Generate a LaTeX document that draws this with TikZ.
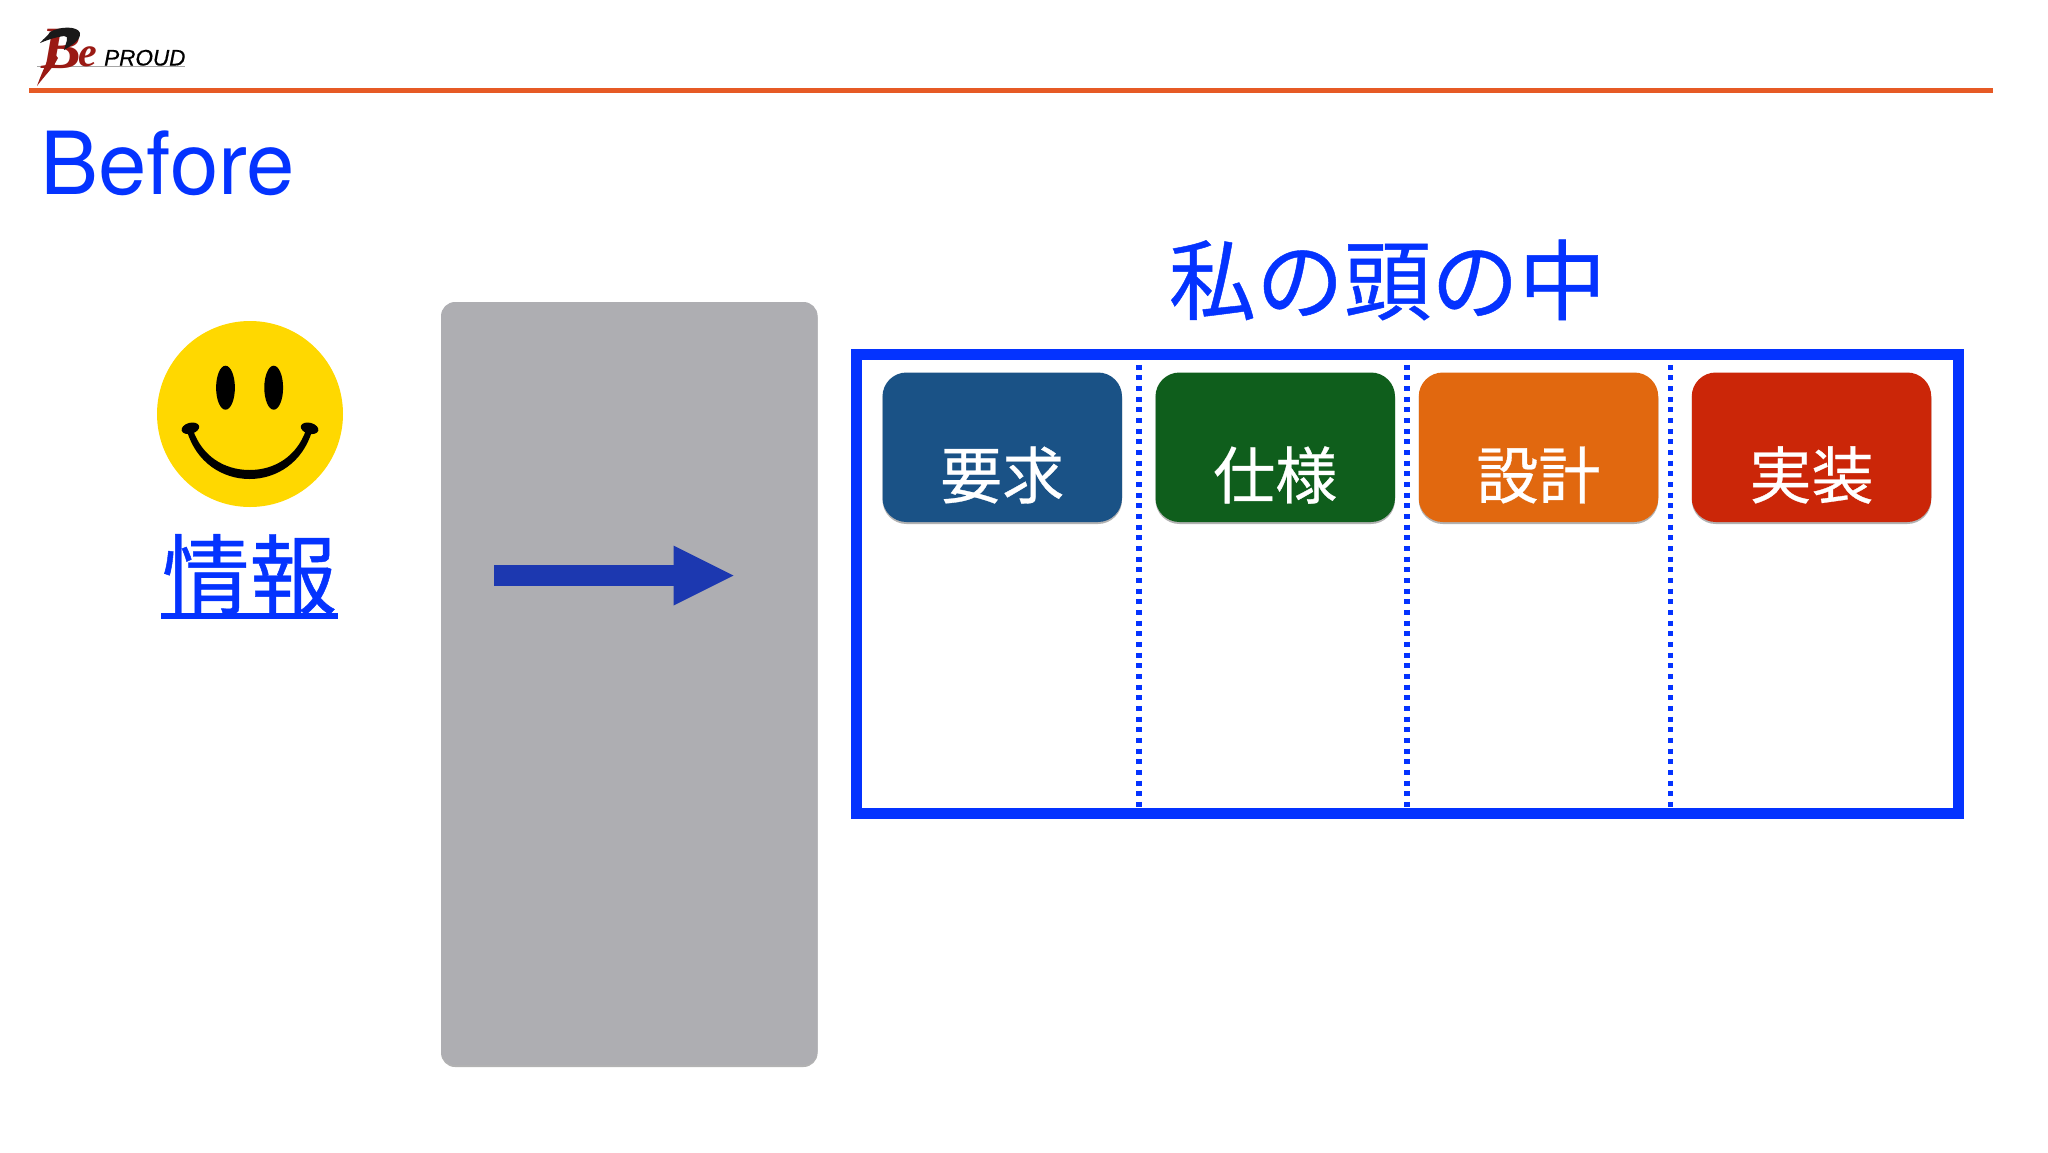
\documentclass[tikz,border=0pt]{standalone}
\usepackage{fontspec}
\setmainfont{TeX Gyre Heros}
\newfontfamily\cjkfont[FakeBold=0.5]{Noto Sans CJK JP}
\newfontfamily\logoserif{Liberation Serif}
\newfontfamily\logosans[FakeBold=0.4]{Liberation Sans}
\usetikzlibrary{arrows.meta,shadows}
\definecolor{framblue}{HTML}{0433FF}
\definecolor{arrowblue}{HTML}{1C38B0}
\definecolor{rulered}{HTML}{E65A25}
\definecolor{panelgray}{HTML}{AEAEB2}
\definecolor{smileyellow}{HTML}{FFD800}
\definecolor{boxblue}{HTML}{1A5286}
\definecolor{boxgreen}{HTML}{0F5E1C}
\definecolor{boxorange}{HTML}{E1680F}
\definecolor{boxred}{HTML}{CB2608}
\definecolor{logored}{HTML}{9A1A14}
\tikzset{
  softshadow/.style={drop shadow={shadow xshift=0pt,shadow yshift=-2pt,opacity=.3,fill=black}},
  stagebox/.style={rounded corners=24pt,minimum width=239.5pt,minimum height=149.5pt,inner sep=0pt,softshadow},
  stagetext/.style={inner sep=0pt,text=white,font=\cjkfont\fontsize{62}{62}\selectfont},
  bigcjk/.style={inner sep=0pt,text=framblue,font=\cjkfont\fontsize{87.5}{87.5}\selectfont},
  divider/.style={framblue,line width=5.5pt,dash pattern=on 5pt off 5.66pt},
}
\begin{document}
\begin{tikzpicture}[x=1pt,y=-1pt]
\useasboundingbox (0,0) rectangle (2048,1152);
\fill[white] (0,0) rectangle (2048,1152);
% logo
\fill[gray!70] (37,66.2) rectangle (185,67.2);
\fill[logored] (52,50) .. controls (47,62) and (42,72) .. (37,86) .. controls (46,74) and (53,68) .. (58,58) -- cycle;
\node[anchor=base west,inner sep=0pt,text=logored,font=\logoserif\bfseries\itshape\fontsize{60}{60}\selectfont] (logoB) at (41,68) {B};
\node[anchor=base west,inner sep=0pt,text=logored,font=\logoserif\bfseries\itshape\fontsize{42}{42}\selectfont] (logoE) at (78,66) {e};
\fill[black!90] (50,32) .. controls (60,26) and (78,26) .. (80,33) .. controls (81,40) and (72,45) .. (64,50) .. controls (66,42) and (70,36) .. (64,36) .. controls (58,37) and (52,38) .. (40,43) .. controls (44,38) and (48,36) .. (50,32) -- cycle;
\node[anchor=base west,inner sep=0pt,text=black,font=\logosans\itshape\fontsize{22.5}{22.5}\selectfont] (logoP) at (104,65.5) {PROUD};
% header
\fill[rulered] (29,88) rectangle (1993,93);
\node[anchor=base west,inner sep=0pt,text=framblue,font=\fontsize{87}{87}\selectfont] (title) at (40,194) {Before};
% smiley
\fill[smileyellow] (250,414) circle[radius=93];
\fill[black] (225.5,387.7) circle[x radius=9.4,y radius=22];
\fill[black] (273.7,387.7) circle[x radius=9.4,y radius=22];
\fill[black] (187,431) .. controls (196,462) and (222,479) .. (249.6,479) .. controls (277,479) and (303,462) .. (312,431)
  -- (306,430) .. controls (297,456) and (275,470) .. (249.6,470) .. controls (224,470) and (202,456) .. (193,430) -- cycle;
\fill[black,rotate around={15:(190.4,428.3)}] (190.4,428.3) circle[x radius=9,y radius=5.5];
\fill[black,rotate around={-15:(309.6,428.3)}] (309.6,428.3) circle[x radius=9,y radius=5.5];
\node[bigcjk] (joho) at (249.5,574.5) {情報};
\fill[framblue] (161.4,612.7) rectangle (338,619.3);
% panel
\node[rounded corners=14pt,minimum width=376.5pt,minimum height=763pt,inner sep=0pt,fill=panelgray,softshadow] (panel) at (629.3,683.5) {};
\coordinate (arrowstart) at (494,575.5);
\coordinate (arrowtip) at (733.5,575.5);
\draw[arrowblue,line width=20.4pt,-{Triangle[length=60pt,width=60pt,line width=0pt]}] (arrowstart) -- (arrowtip);
% frame
\node[bigcjk] (head) at (1387.5,280) {私の頭の中};
\node[draw=framblue,line width=11pt,minimum width=1102.5pt,minimum height=459pt,inner sep=0pt,softshadow,fill=white] (frame) at (1407.25,584) {};
\foreach \n/\x in {a/1139,b/1407,c/1670.5}{
  \coordinate (top\n) at (\x,364.8);
  \coordinate (bot\n) at (\x,807);
  \draw[divider] (top\n) -- (bot\n);
}
\node[stagebox,fill=boxblue] (s1) at (1002.25,447.25) {};
\node[stagebox,fill=boxgreen] (s2) at (1275.25,447.25) {};
\node[stagebox,fill=boxorange] (s3) at (1538.5,447.25) {};
\node[stagebox,fill=boxred] (s4) at (1811.5,447.25) {};
\node[stagetext] (t1) at (1002.25,475) {要求};
\node[stagetext] (t2) at (1275.25,475) {仕様};
\node[stagetext] (t3) at (1538.5,475) {設計};
\node[stagetext] (t4) at (1811.5,475) {実装};
\end{tikzpicture}
\end{document}
